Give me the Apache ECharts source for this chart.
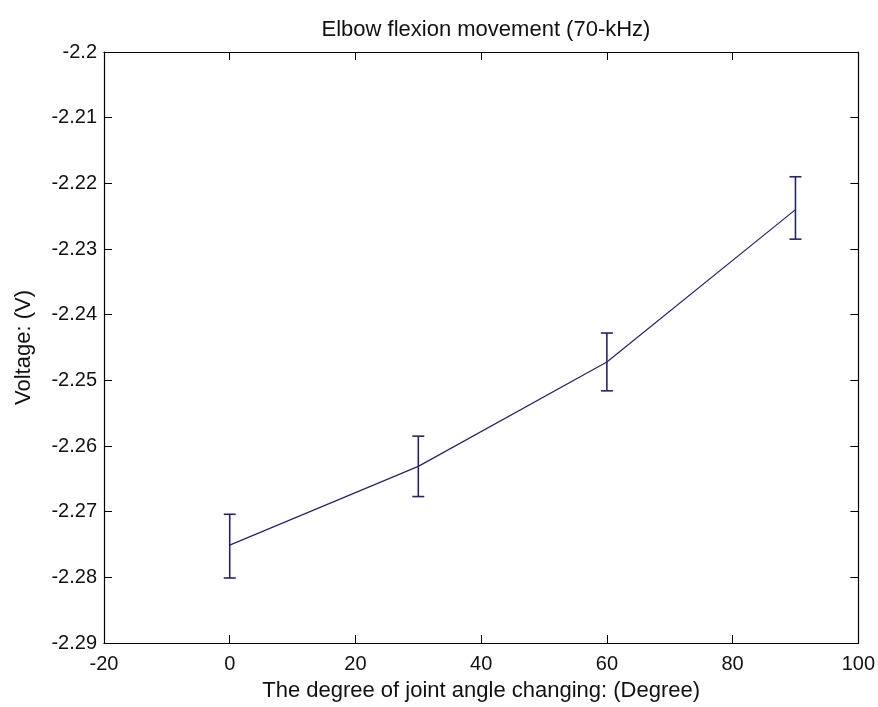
<!DOCTYPE html>
<html>
<head>
<meta charset="utf-8">
<script src="https://cdn.jsdelivr.net/npm/echarts@6/dist/echarts.min.js"></script>
<style>html,body{margin:0;padding:0;background:#fff;}#c{width:878px;height:707px;}</style>
</head>
<body>
<div id="c"></div>
<script>
const titleText = 'Elbow flexion movement (70-kHz)';
const xName = 'The degree of joint angle changing: (Degree)';
const yName = 'Voltage: (V)';
const angles = [0, 30, 60, 90];
const meanVoltage = [-2.2751, -2.2631, -2.2472, -2.2240];
const upperVoltage = [-2.2704, -2.2585, -2.2428, -2.2190];
const lowerVoltage = [-2.2801, -2.2677, -2.2516, -2.2285];

const lineColor = '#24246e';
const fontFam = 'Liberation Sans, Arial, sans-serif';
const fmtY = v => String(parseFloat(Number(v).toFixed(2)));

const chart = echarts.init(document.getElementById('c'), null, {renderer: 'canvas'});
const axisCommon = {
  axisLine: {show: true, onZero: false, lineStyle: {color: '#000', width: 1.2}},
  axisTick: {show: true, inside: true, length: 8, lineStyle: {color: '#000', width: 1}},
  splitLine: {show: false}
};
chart.setOption({
  animation: false,
  backgroundColor: '#fff',
  title: {
    text: titleText, left: 481, top: 14, textAlign: 'center',
    textStyle: {fontFamily: fontFam, fontSize: 22, fontWeight: 'normal', color: '#111'}
  },
  grid: {left: 104, right: 19, top: 52, bottom: 63, containLabel: false},
  xAxis: [
    Object.assign({
      type: 'value', min: -20, max: 100, interval: 20, position: 'bottom',
      name: xName, nameLocation: 'middle', nameGap: 37,
      nameTextStyle: {fontFamily: fontFam, fontSize: 22, color: '#111'},
      axisLabel: {fontFamily: fontFam, fontSize: 20, color: '#111', margin: 11}
    }, axisCommon),
    Object.assign({
      type: 'value', min: -20, max: 100, interval: 20, position: 'top',
      axisLabel: {show: false}
    }, axisCommon)
  ],
  yAxis: [
    Object.assign({
      type: 'value', min: -2.29, max: -2.2, interval: 0.01, position: 'left',
      name: yName, nameLocation: 'middle', nameGap: 69,
      nameTextStyle: {fontFamily: fontFam, fontSize: 22, color: '#111'},
      axisLabel: {fontFamily: fontFam, fontSize: 20, color: '#111', margin: 7, formatter: fmtY}
    }, axisCommon),
    Object.assign({
      type: 'value', min: -2.29, max: -2.2, interval: 0.01, position: 'right',
      axisLabel: {show: false}
    }, axisCommon)
  ],
  series: [
    {
      type: 'line',
      data: angles.map((a, i) => [a, meanVoltage[i]]),
      symbol: 'none',
      lineStyle: {color: lineColor, width: 1.2},
      z: 3
    },
    {
      type: 'custom',
      data: angles.map((a, i) => [a, lowerVoltage[i], upperVoltage[i]]),
      renderItem: function (params, api) {
        const lo = api.coord([api.value(0), api.value(1)]);
        const hi = api.coord([api.value(0), api.value(2)]);
        const hw = 6;
        const st = {stroke: lineColor, lineWidth: 1.6, fill: null};
        return {
          type: 'group',
          children: [
            {type: 'line', shape: {x1: lo[0], y1: lo[1], x2: hi[0], y2: hi[1]}, style: st},
            {type: 'line', shape: {x1: lo[0] - hw, y1: lo[1], x2: lo[0] + hw, y2: lo[1]}, style: st},
            {type: 'line', shape: {x1: hi[0] - hw, y1: hi[1], x2: hi[0] + hw, y2: hi[1]}, style: st}
          ]
        };
      },
      z: 4
    }
  ]
});
</script>
</body>
</html>
